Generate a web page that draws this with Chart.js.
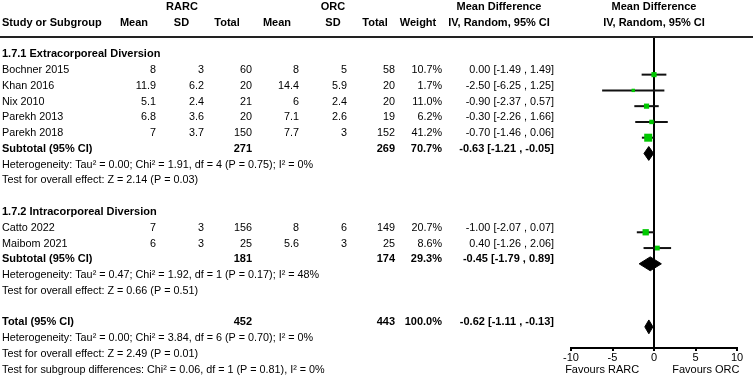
<!DOCTYPE html>
<html>
<head>
<meta charset="utf-8">
<script src="https://cdn.jsdelivr.net/npm/chart.js@4.4.1/dist/chart.umd.min.js"></script>
<style>
  html, body { margin: 0; padding: 0; background: #fff; }
  #wrap { width: 753px; height: 378px; }
</style>
</head>
<body>
<div id="wrap"><canvas id="forest" width="753" height="378"></canvas></div>
<script>
// Individual studies
const studies = ['Bochner 2015', 'Khan 2016', 'Nix 2010', 'Parekh 2013', 'Parekh 2018', 'Catto 2022', 'Maibom 2021'];
const studyRows = [1, 2, 3, 4, 5, 11, 12];
const rarcMean = [8, 11.9, 5.1, 6.8, 7, 7, 6];
const rarcSD = [3, 6.2, 2.4, 3.6, 3.7, 3, 3];
const rarcTotal = [60, 20, 21, 20, 150, 156, 25];
const orcMean = [8, 14.4, 6, 7.1, 7.7, 8, 5.6];
const orcSD = [5, 5.9, 2.4, 2.6, 3, 6, 3];
const orcTotal = [58, 20, 20, 19, 152, 149, 25];
const weights = [10.7, 1.7, 11.0, 6.2, 41.2, 20.7, 8.6];
const mdEst = [0.00, -2.50, -0.90, -0.30, -0.70, -1.00, 0.40];
const ciLow = [-1.49, -6.25, -2.37, -2.26, -1.46, -2.07, -1.26];
const ciHigh = [1.49, 1.25, 0.57, 1.66, 0.06, 0.07, 2.06];

// Pooled estimates (subtotals and total)
const pooledLabels = ['Subtotal (95% CI)', 'Subtotal (95% CI)', 'Total (95% CI)'];
const pooledRows = [6, 13, 17];
const pooledRarcTotal = [271, 181, 452];
const pooledOrcTotal = [269, 174, 443];
const pooledWeight = [70.7, 29.3, 100.0];
const pooledEst = [-0.63, -0.45, -0.62];
const pooledLow = [-1.21, -1.79, -1.11];
const pooledHigh = [-0.05, 0.89, -0.13];

// Subgroup titles and footnote lines
const groupTitles = ['1.7.1 Extracorporeal Diversion', '1.7.2 Intracorporeal Diversion'];
const groupRows = [0, 10];
const noteLines = [
  'Heterogeneity: Tau\u00b2 = 0.00; Chi\u00b2 = 1.91, df = 4 (P = 0.75); I\u00b2 = 0%',
  'Test for overall effect: Z = 2.14 (P = 0.03)',
  'Heterogeneity: Tau\u00b2 = 0.47; Chi\u00b2 = 1.92, df = 1 (P = 0.17); I\u00b2 = 48%',
  'Test for overall effect: Z = 0.66 (P = 0.51)',
  'Heterogeneity: Tau\u00b2 = 0.00; Chi\u00b2 = 3.84, df = 6 (P = 0.70); I\u00b2 = 0%',
  'Test for overall effect: Z = 2.49 (P = 0.01)',
  'Test for subgroup differences: Chi\u00b2 = 0.06, df = 1 (P = 0.81), I\u00b2 = 0%'
];
const noteRows = [7, 8, 14, 15, 18, 19, 20];

// Axis
const xTicks = [-10, -5, 0, 5, 10];
const favourLabels = ['Favours RARC', 'Favours ORC'];

const FONT = '"Liberation Sans", Arial, sans-serif';
const GREEN = '#00c800';
const HEADER_LINE_Y = 37;

function fmt2(v) { return v.toFixed(2); }
function ciText(est, lo, hi) { return fmt2(est) + ' [' + fmt2(lo) + ' , ' + fmt2(hi) + ']'; }

// datasets
const datasets = [];

// squares on top
datasets.push({
  data: studies.map((s, i) => ({ x: mdEst[i], y: studyRows[i] })),
  showLine: false,
  pointStyle: 'rect',
  pointRadius: weights.map(w => (2.2 + 0.9 * Math.sqrt(w)) / Math.SQRT2),
  pointBackgroundColor: GREEN,
  pointBorderWidth: 0,
  order: 0
});

// whiskers
studies.forEach((s, i) => {
  datasets.push({
    data: [{ x: ciLow[i], y: studyRows[i] }, { x: ciHigh[i], y: studyRows[i] }],
    borderColor: '#111',
    borderWidth: 2,
    pointRadius: 0,
    fill: false,
    order: 2
  });
});

// diamonds: upper half filled down to lower half
const halfH = 0.44;
pooledEst.forEach((e, i) => {
  const r = pooledRows[i];
  datasets.push({
    data: [{ x: pooledLow[i], y: r }, { x: e, y: r - halfH }, { x: pooledHigh[i], y: r }],
    borderColor: '#000',
    borderWidth: 1,
    backgroundColor: '#000',
    pointRadius: 0,
    tension: 0,
    fill: '+1',
    order: 1
  });
  datasets.push({
    data: [{ x: pooledLow[i], y: r }, { x: e, y: r + halfH }, { x: pooledHigh[i], y: r }],
    borderColor: '#000',
    borderWidth: 1,
    pointRadius: 0,
    tension: 0,
    fill: false,
    order: 1
  });
});

const tablePlugin = {
  id: 'forestTable',
  beforeDatasetsDraw(chart) {
    const ctx = chart.ctx;
    const x0 = chart.scales.x.getPixelForValue(0);
    ctx.save();
    ctx.strokeStyle = '#000';
    ctx.lineWidth = 2;
    ctx.beginPath();
    ctx.moveTo(x0, HEADER_LINE_Y);
    ctx.lineTo(x0, chart.chartArea.bottom);
    ctx.stroke();
    ctx.restore();
  },
  afterDraw(chart) {
    const ctx = chart.ctx;
    const xs = chart.scales.x;
    const ys = chart.scales.y;
    const x0 = xs.getPixelForValue(0);
    const rowY = r => ys.getPixelForValue(r) - 4.5;

    ctx.save();
    ctx.fillStyle = '#000';
    ctx.textBaseline = 'middle';
    const txt = (s, x, y, align, bold) => {
      ctx.font = bold ? 'bold 11px ' + FONT : '10.8px ' + FONT;
      ctx.textAlign = align;
      ctx.fillText(s, x, y);
    };

    // header
    txt('RARC', 182, 6.5, 'center', true);
    txt('ORC', 333, 6.5, 'center', true);
    txt('Mean Difference', 499, 6.5, 'center', true);
    txt('Mean Difference', x0, 6.5, 'center', true);
    txt('Study or Subgroup', 2, 23, 'left', true);
    txt('Mean', 134, 23, 'center', true);
    txt('SD', 181.5, 23, 'center', true);
    txt('Total', 227, 23, 'center', true);
    txt('Mean', 277, 23, 'center', true);
    txt('SD', 333, 23, 'center', true);
    txt('Total', 375, 23, 'center', true);
    txt('Weight', 418, 23, 'center', true);
    txt('IV, Random, 95% CI', 499, 23, 'center', true);
    txt('IV, Random, 95% CI', x0, 23, 'center', true);

    ctx.strokeStyle = '#222';
    ctx.lineWidth = 2;
    ctx.beginPath();
    ctx.moveTo(0, HEADER_LINE_Y);
    ctx.lineTo(chart.width, HEADER_LINE_Y);
    ctx.stroke();

    groupTitles.forEach((t, i) => txt(t, 2, rowY(groupRows[i]), 'left', true));

    studies.forEach((s, i) => {
      const y = rowY(studyRows[i]);
      txt(s, 2, y, 'left', false);
      txt(String(rarcMean[i]), 156, y, 'right', false);
      txt(String(rarcSD[i]), 204, y, 'right', false);
      txt(String(rarcTotal[i]), 252, y, 'right', false);
      txt(String(orcMean[i]), 299, y, 'right', false);
      txt(String(orcSD[i]), 347, y, 'right', false);
      txt(String(orcTotal[i]), 395, y, 'right', false);
      txt(weights[i].toFixed(1) + '%', 442, y, 'right', false);
      txt(ciText(mdEst[i], ciLow[i], ciHigh[i]), 554, y, 'right', false);
    });

    pooledLabels.forEach((s, i) => {
      const y = rowY(pooledRows[i]);
      txt(s, 2, y, 'left', true);
      txt(String(pooledRarcTotal[i]), 252, y, 'right', true);
      txt(String(pooledOrcTotal[i]), 395, y, 'right', true);
      txt(pooledWeight[i].toFixed(1) + '%', 442, y, 'right', true);
      txt(ciText(pooledEst[i], pooledLow[i], pooledHigh[i]), 554, y, 'right', true);
    });

    noteLines.forEach((t, i) => txt(t, 2, rowY(noteRows[i]), 'left', false));

    // favours labels under the axis
    ctx.font = '11px ' + FONT;
    ctx.textAlign = 'center';
    ctx.fillText(favourLabels[0], xs.getPixelForValue(-6.25), 369.5);
    ctx.fillText(favourLabels[1], xs.getPixelForValue(6.25), 369.5);
    ctx.restore();
  }
};

new Chart(document.getElementById('forest').getContext('2d'), {
  type: 'line',
  data: { datasets: datasets },
  options: {
    responsive: false,
    animation: false,
    devicePixelRatio: 1,
    layout: { padding: { left: 571, right: 16, top: 0, bottom: 0 } },
    plugins: { legend: { display: false }, tooltip: { enabled: false } },
    scales: {
      x: {
        type: 'linear',
        min: -10,
        max: 10,
        afterBuildTicks: axis => { axis.ticks = xTicks.map(v => ({ value: v })); },
        afterFit: axis => { axis.height = 30; },
        border: { color: '#000', width: 2 },
        grid: { drawOnChartArea: false, drawTicks: true, tickLength: 3, color: '#000', lineWidth: 2 },
        ticks: { color: '#000', padding: 0, maxRotation: 0, font: { family: FONT, size: 11 } }
      },
      y: {
        type: 'linear',
        display: false,
        reverse: true,
        min: -3.48,
        max: 18.34
      }
    }
  },
  plugins: [tablePlugin]
});
</script>
</body>
</html>
